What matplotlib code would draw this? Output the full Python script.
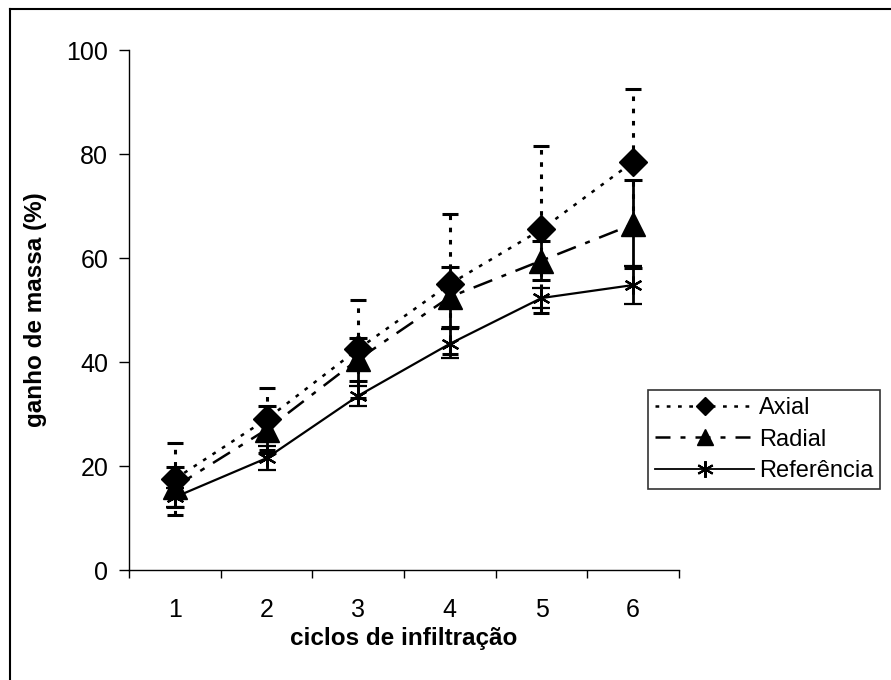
import matplotlib
matplotlib.use("Agg")
import matplotlib.pyplot as plt
from matplotlib.lines import Line2D

plt.rcParams['font.family'] = ['Liberation Sans', 'DejaVu Sans']

ciclos = [1, 2, 3, 4, 5, 6]
tick_labels = ['1', '2', '3', '4', '5', '6']

axial = [17.5, 29.0, 42.5, 55.0, 65.5, 78.5]
axial_err = [7.0, 6.0, 9.5, 13.5, 16.0, 14.0]

radial = [16.0, 27.0, 40.5, 52.5, 59.5, 66.5]
radial_err = [3.8, 4.5, 4.2, 5.8, 3.8, 8.5]

referencia = [14.0, 21.5, 33.5, 43.5, 52.3, 54.8]
referencia_err = [1.8, 2.3, 1.9, 2.8, 2.0, 3.6]

fig = plt.figure(figsize=(8.91, 6.8), dpi=100)
ax = fig.add_axes([129/891, 1-570/680, (679-129)/891, (570-50)/680])

# frame lines of the figure (left and top only)
fig.add_artist(Line2D([10/891, 10/891], [0, 1-9/680], transform=fig.transFigure, color='black', lw=1.5))
fig.add_artist(Line2D([10/891, 1], [1-9/680, 1-9/680], transform=fig.transFigure, color='black', lw=1.5))

eb_ref = ax.errorbar(ciclos, referencia, yerr=referencia_err, color='black', lw=1.6,
                     linestyle='-', marker=(6, 2, 0), markersize=13, markeredgewidth=1.6,
                     capsize=6.5, capthick=2.2, elinewidth=2.0, label='Referência', zorder=3)

eb_rad = ax.errorbar(ciclos, radial, yerr=radial_err, color='black', lw=1.8,
                     linestyle=(0, (8, 4, 2, 4)), marker='^', markersize=17,
                     capsize=6.5, capthick=2.2, elinewidth=2.0, label='Radial', zorder=4)

eb_ax = ax.errorbar(ciclos, axial, yerr=axial_err, color='black', lw=1.8,
                    linestyle=(0, (1.5, 3)), marker='D', markersize=14,
                    capsize=5.5, capthick=2.2, elinewidth=2.2, label='Axial', zorder=5)
for lc in eb_ax[2]:
    lc.set_linestyle((0, (1.5, 2.5)))

ax.set_xlim(0.5, 6.5)
ax.set_ylim(0, 100)
ax.set_yticks([0, 20, 40, 60, 80, 100])
ax.set_xticks([0.5, 1.5, 2.5, 3.5, 4.5, 5.5, 6.5])
ax.set_xticklabels([])
ax.set_xticks(ciclos, minor=True)
ax.set_xticklabels(tick_labels, minor=True)
ax.tick_params(axis='x', which='major', direction='out', length=6, width=1)
ax.tick_params(axis='x', which='minor', length=0, pad=20, labelsize=18)
ax.tick_params(axis='y', direction='out', length=7, width=1, labelsize=18, pad=8)
for s in ['top', 'right']:
    ax.spines[s].set_visible(False)
for s in ['left', 'bottom']:
    ax.spines[s].set_linewidth(1)

ax.set_xlabel('ciclos de infiltração', fontsize=17.5, fontweight='bold', labelpad=4)
ax.set_ylabel('ganho de massa (%)', fontsize=17.5, fontweight='bold', labelpad=14)

handles = [
    Line2D([], [], color='black', lw=1.8, linestyle=(0, (1.5, 3)), marker='D', markersize=9),
    Line2D([], [], color='black', lw=1.8, linestyle=(0, (6, 4, 2, 4)), marker='^', markersize=11),
    Line2D([], [], color='black', lw=1.3, linestyle='-', marker=(6, 2, 0), markersize=12, markeredgewidth=1.5),
]
leg = ax.legend(handles, ['Axial', 'Radial', 'Referência'], loc='upper left',
                bbox_to_anchor=(648/891, 1-390/680), bbox_transform=fig.transFigure,
                fontsize=17, frameon=True, fancybox=False, edgecolor='black',
                handlelength=4.2, handletextpad=0.2, borderpad=0.3, labelspacing=0.4,
                borderaxespad=0)
leg.get_frame().set_linewidth(1.2)

fig.savefig('out.png', dpi=100)
